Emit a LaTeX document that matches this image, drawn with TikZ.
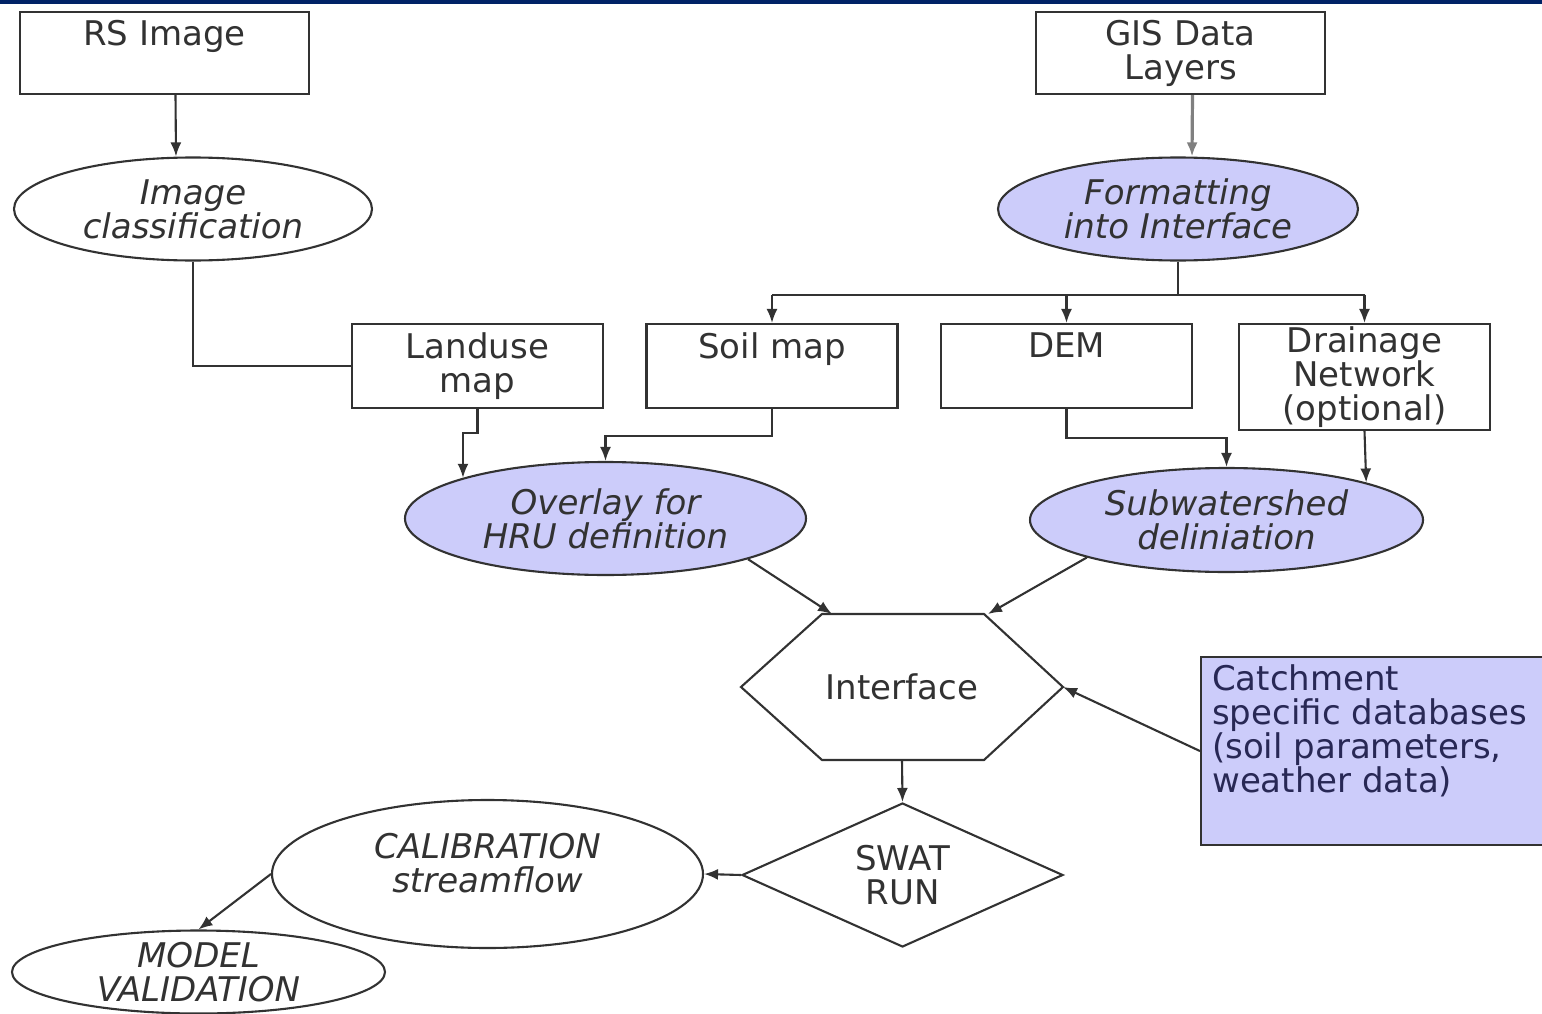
\documentclass[tikz,border=0pt]{standalone}
\usepackage{fontspec}
\setmainfont{DejaVu Sans}
\usetikzlibrary{arrows.meta, calc, shapes.geometric}
\definecolor{navybar}{RGB}{0,34,102}
\definecolor{lavender}{RGB}{204,204,250}
\definecolor{inkgray}{RGB}{50,50,50}
\definecolor{inknavy}{RGB}{40,40,85}

\begin{document}
\begin{tikzpicture}[x=1pt, y=-1pt,
	every node/.style={font=\fontsize{34}{34}\selectfont, text=inkgray, align=center},
	box/.style={draw=inkgray, line width=2.1pt, fill=white, minimum width=251pt, minimum height=84pt, inner sep=0pt},
	oval/.style={draw=inkgray, line width=2.1pt, ellipse, inner sep=0pt, fill=white, font=\fontsize{34}{34}\selectfont\itshape},
	shaded/.style={oval, fill=lavender},
	plain/.style={draw=inkgray, line width=2.1pt},
	arr/.style={plain, -{Latex[length=14pt, width=11pt]}}]
	\useasboundingbox (0,0) rectangle (1542,1014);
	\fill[white] (0,0) rectangle (1542,1014);
	\fill[navybar] (0,0) rectangle (1542,4);
	% inputs
	\node[box, minimum width=289pt, minimum height=82pt] (rs) at (164.5,53) {RS Image\\\phantom{Ig}};
	\node[oval, minimum width=358pt, minimum height=103pt] (imgcls) at (193,209) {Image\\classification};
	\node[box, minimum width=289pt, minimum height=82pt] (gis) at (1180.5,53) {GIS Data\\Layers};
	\node[shaded, minimum width=360pt, minimum height=103pt] (fmt) at (1178,209) {Formatting\\into Interface};
	% map layers
	\node[box] (landuse) at (477.5,366) {Landuse\\map};
	\node[box] (soil) at (772,366) {Soil map\\\phantom{Ig}};
	\node[box] (dem) at (1066.5,366) {DEM\\\phantom{Ig}};
	\node[box, minimum height=106pt] (drain) at (1364.5,377) {Drainage\\Network\\(optional)};
	\node[shaded, minimum width=401pt, minimum height=113pt] (overlay) at (605.5,518.5) {Overlay for\\HRU definition};
	\node[shaded, minimum width=393pt, minimum height=104pt] (subw) at (1226.5,520) {Subwatershed\\deliniation};
	% interface and run
	\node (iface) at (902,687) {Interface};
	\draw[plain] (741,687) coordinate (hexW) -- (822,614) coordinate (hexNW) -- (984,614) coordinate (hexNE)
		-- (1063,687) coordinate (hexE) -- (984,760) -- (822,760) -- cycle;
	\coordinate (hexS) at (902,760);
	\node[draw=inkgray, line width=2.1pt, fill=lavender, minimum width=348pt, minimum height=188pt, anchor=north west] (catch) at (1200,656) {};
	\node[anchor=north west, align=left, inner sep=0pt, text=inknavy] (catchtxt) at (1212,664) {Catchment\\specific databases\\(soil parameters,\\weather data)};
	\node[diamond, draw=inkgray, line width=2.1pt, inner sep=0pt, aspect=2.2, minimum width=321pt, minimum height=144pt] (swat) at (902.5,875) {SWAT\\RUN};
	\node[oval, minimum width=431pt, minimum height=148pt] (calib) at (487.5,874) {CALIBRATION\\streamflow\\[-12pt]\mbox{}};
	\node[oval, minimum width=373pt, minimum height=83pt, inner ysep=-8pt] (model) at (198.5,972) {MODEL\\VALIDATION};
	% arrows
	\draw[arr] ([xshift=11pt]rs.south) -- ([xshift=-17pt]imgcls.north);
	\draw[plain] (imgcls.south) |- (landuse.west);
	\draw[arr, line width=3.2pt, draw=gray] ([xshift=12pt]gis.south) -- ([xshift=14pt]fmt.north);
	\draw[plain] (fmt.south) -- ++(0,33) coordinate (bus);
	\draw[plain] (bus -| soil.north) -- (bus -| drain.north);
	\foreach \b in {soil, dem, drain} {\draw[arr] (bus -| \b.north) -- (\b.north);}
	\draw[arr] (landuse.south) -- ++(0,24) -| (overlay.north west);
	\draw[arr] (soil.south) -- ++(0,27) -| (overlay.north);
	\draw[arr] (dem.south) -- ++(0,29) -| (subw.north);
	\draw[arr] (drain.south) -- (subw.north east);
	\draw[arr] (overlay.south east) -- ([xshift=10pt]hexNW);
	\draw[arr] (subw.south west) -- ([xshift=4pt]hexNE);
	\draw[arr] (catch.west) -- (hexE);
	\draw[arr] (hexS) -- (swat.north);
	\draw[arr] (swat.west) -- (calib.east);
	\draw[arr] (calib.west) -- (model.north);
\end{tikzpicture}
\end{document}
